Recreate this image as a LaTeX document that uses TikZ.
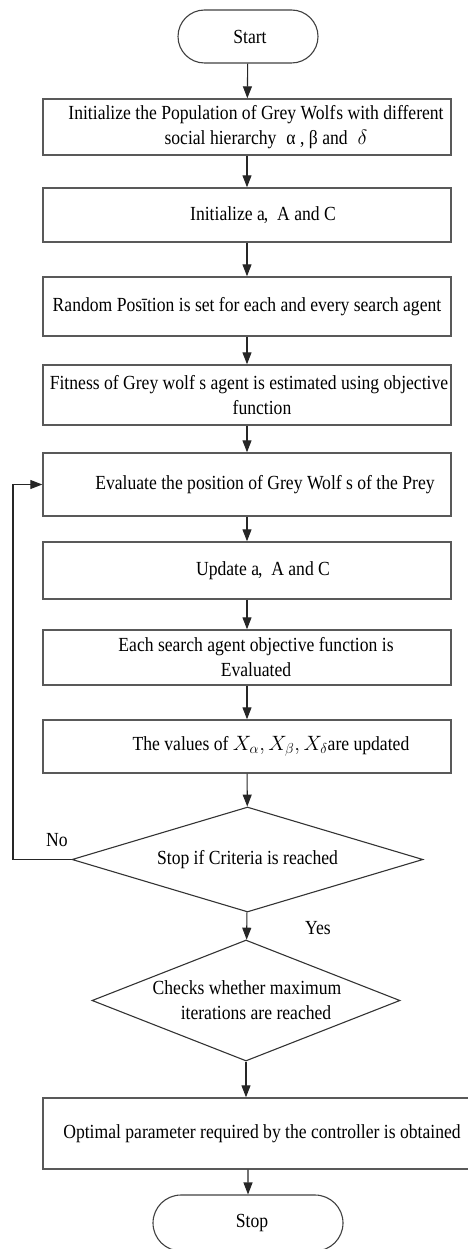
\documentclass[tikz,border=0pt]{standalone}
\usepackage{fontspec}
\setmainfont{Liberation Serif}[FakeStretch=0.88]
\usetikzlibrary{shapes.geometric,shapes.misc,arrows.meta}
\begin{document}
\begin{tikzpicture}[x=1pt,y=-1pt,
  every node/.style={font=\fontsize{20}{25}\selectfont},
  procbox/.style={draw=black!65,line width=1.4pt,rectangle,minimum width=408pt,inner sep=0pt,align=center},
  termbox/.style={draw=black!75,line width=1.1pt,rounded rectangle,minimum width=140pt,minimum height=53pt,inner sep=0pt},
  decbox/.style={draw=black!80,line width=1.1pt,diamond,inner sep=0pt,align=center},
  arr/.style={draw=black!85,line width=1.1pt,-{Triangle[length=12pt,width=9pt]}},
  lbl/.style={inner sep=0pt}]
\useasboundingbox (0,0) rectangle (467,1249);
\node[termbox] (start) at (248,36.5) {\hspace*{4pt}Start};
\node[procbox,minimum height=56pt] (b1) at (247,127) {\hspace*{18pt}Initialize the Population of Grey Wolf\kern1pt s with different\\\hspace*{38pt}social hierarchy\enspace α , β and\enspace $\delta$};
\node[procbox,minimum height=54pt] (b2) at (247,215) {\hspace*{32pt}Initialize a\kern-1pt, \ A and C};
\node[procbox,minimum height=59pt] (b3) at (247,306.5) {Random Posītion is set for each and every search agent};
\node[procbox,minimum height=60pt] (b4) at (247,395) {\hspace*{4pt}Fitness of Grey wolf s agent is estimated using objective\\\hspace*{30pt}function};
\node[procbox,minimum height=63pt] (b5) at (247,484.5) {\hspace*{36pt}Evaluate the position of Grey Wolf s of the Prey};
\node[procbox,minimum height=57pt] (b6) at (247,570.5) {\hspace*{32pt}Update a\kern-1pt, \ A and C};
\node[procbox,minimum height=55pt] (b7) at (247,657.5) {\hspace*{18pt}Each search agent objective function is\\\hspace*{18pt}Evaluated};
\node[procbox,minimum height=53pt] (b8) at (247,746.5) {\hspace*{48pt}The values of $X_\alpha, X_\beta, X_\delta$are updated};
\node[decbox,aspect=3.34,minimum width=351pt,minimum height=105pt] (d1) at (247.5,859.5) {Stop if Criteria is reached};
\node[decbox,aspect=2.55,minimum width=308pt,minimum height=121pt] (d2) at (246,1000.5) {\hspace*{2pt}Checks whether maximum\\\hspace*{20pt}iterations are reached};
\node[procbox,minimum width=432pt,minimum height=71pt] (b9) at (259,1133.5) {\hspace*{6pt}Optimal parameter required by the controller is obtained};
\node[termbox,minimum width=190pt,minimum height=56pt] (stop) at (248,1223) {\hspace*{8pt}Stop};
\node[lbl] (no) at (57,840) {No};
\node[lbl] (yes) at (318,928) {Yes};
\coordinate (lp) at (13,859.5);
\draw[arr] (start) -- (b1);
\draw[arr] (b1) -- (b2);
\draw[arr] (b2) -- (b3);
\draw[arr] (b3) -- (b4);
\draw[arr] (b4) -- (b5);
\draw[arr] (b5) -- (b6);
\draw[arr] (b6) -- (b7);
\draw[arr] (b7) -- (b8);
\draw[arr] (b8) -- (d1);
\draw[arr] (d1) -- (d2);
\draw[arr] (d2.south) -- (d2.south |- b9.north);
\draw[arr] (b9.south -| stop.north) -- (stop);
\draw[arr] (d1.west) -- (lp) |- (b5.west);
\end{tikzpicture}
\end{document}
